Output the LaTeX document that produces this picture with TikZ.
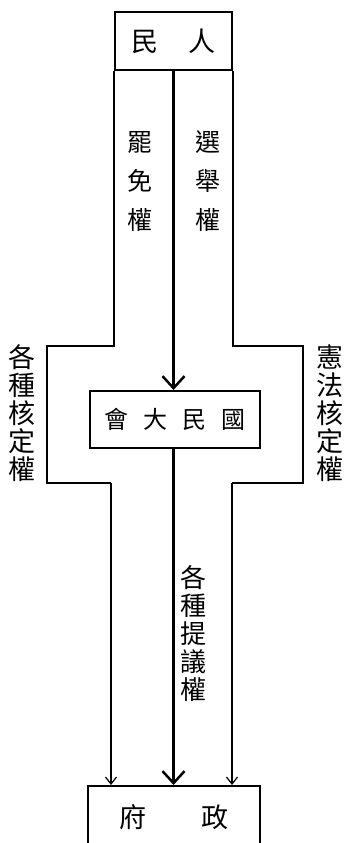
\documentclass[tikz,border=0pt]{standalone}
\usepackage{fontspec}
\setmainfont{Noto Sans CJK TC}
\usetikzlibrary{arrows.meta,calc}
\begin{document}
\begin{tikzpicture}[x=1pt,y=-1pt,
  box/.style={draw, line width=2pt, inner sep=0pt},
  frame/.style={line width=1.4pt},
  trunk/.style={line width=3pt},
  bigtip/.style={-{Straight Barb[length=12pt,width=22pt,line width=2.5pt]}},
  smalltip/.style={-{Straight Barb[length=7pt,width=11pt,line width=1.2pt]}},
  lab/.style={align=center, inner sep=0pt}]
\useasboundingbox (0,0) rectangle (344,843);
% boxes
\node[box, minimum width=117pt, minimum height=58pt, font=\fontsize{27}{27}\selectfont] (rm) at (173.5,41) {民\hspace{31pt}人};
\node[box, minimum width=170pt, minimum height=57pt, font=\fontsize{24}{24}\selectfont] (gm) at (175,419.5) {會\hspace{15pt}大\hspace{15pt}民\hspace{15pt}國};
\node[box, minimum width=172pt, minimum height=62pt, font=\fontsize{27}{27}\selectfont] (zf) at (174,817) {府\hspace{56pt}政};
% frame lines
\coordinate (lb) at (111,483);
\coordinate (rb) at (232,483);
\draw[frame] (rm.south west) |- (47,346) -- (47,483) -- (lb);
\draw[frame] (rm.south east) |- (303,346) -- (303,483) -- (rb);
\draw[frame,smalltip] (lb) -- (lb |- zf.north);
\draw[frame,smalltip] (rb) -- (rb |- zf.north);
% trunk arrows
\draw[trunk,bigtip] (rm.south) -- (rm.south |- gm.north);
\draw[trunk,bigtip] (rm.south |- gm.south) -- (rm.south |- zf.north);
% labels
\node[lab, font=\fontsize{25}{39}\selectfont] (bm) at (140,181) {罷\\免\\權};
\node[lab, font=\fontsize{25}{39}\selectfont] (xj) at (208,181) {選\\舉\\權};
\node[lab, font=\fontsize{27}{28}\selectfont] (gh) at (22,413) {各\\種\\核\\定\\權};
\node[lab, font=\fontsize{27}{28}\selectfont] (xf) at (330,413) {憲\\法\\核\\定\\權};
\node[lab, font=\fontsize{26}{28}\selectfont] (ty) at (193,634) {各\\種\\提\\議\\權};
\end{tikzpicture}
\end{document}
